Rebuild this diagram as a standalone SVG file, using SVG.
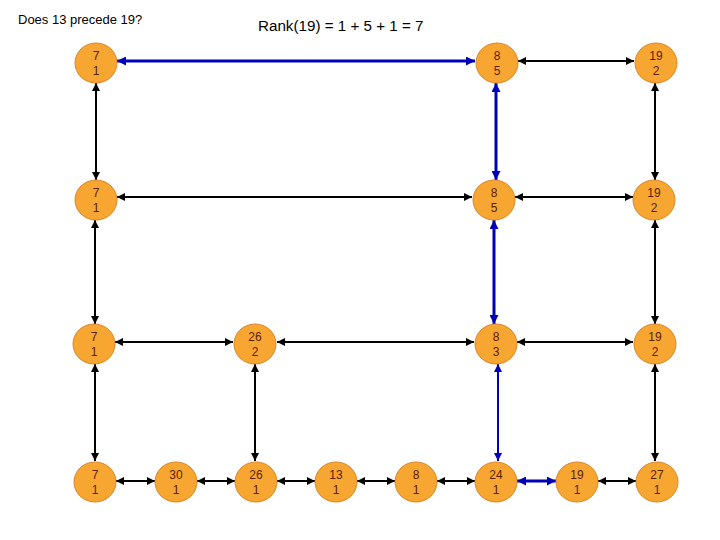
<svg xmlns="http://www.w3.org/2000/svg" width="720" height="540" viewBox="0 0 720 540">
<style>
.n ellipse{fill:#F7A731;stroke:#D9862A;stroke-width:1}
.n text{font-family:"Liberation Sans",Arial,sans-serif;font-size:12px;fill:#5a2008;text-anchor:middle}
.t{font-family:"Liberation Sans",Arial,sans-serif;fill:#000}
.k{stroke:#000;stroke-width:2;fill:none;marker-start:url(#ak);marker-end:url(#ak)}
.b{stroke:#0000B8;stroke-width:3;fill:none;marker-start:url(#ab);marker-end:url(#ab)}
.bt{stroke:#0000B8;stroke-width:2;fill:none;marker-start:url(#ab2);marker-end:url(#ab2)}
</style>
<defs>
<marker id="ak" viewBox="0 0 10 10" refX="10" refY="5" markerWidth="4" markerHeight="4" orient="auto-start-reverse" markerUnits="strokeWidth"><path d="M0,0L10,5L0,10z" fill="#000"/></marker>
<marker id="ab" viewBox="0 0 10 10" refX="10" refY="5" markerWidth="3" markerHeight="3" orient="auto-start-reverse" markerUnits="strokeWidth"><path d="M0,0L10,5L0,10z" fill="#0000B8"/></marker>
<marker id="ab2" viewBox="0 0 10 10" refX="10" refY="5" markerWidth="4" markerHeight="4" orient="auto-start-reverse" markerUnits="strokeWidth"><path d="M0,0L10,5L0,10z" fill="#0000B8"/></marker>
</defs>
<rect width="720" height="540" fill="#fff"/>
<text class="t" x="18" y="24" font-size="13">Does 13 precede 19?</text>
<text class="t" x="258" y="31" font-size="15.2">Rank(19) = 1 + 5 + 1 = 7</text>
<g id="connectors">
<line class="b" x1="117" y1="61" x2="475" y2="61"/>
<line class="k" x1="518" y1="61" x2="634" y2="61"/>
<line class="k" x1="96" y1="83" x2="96" y2="180"/>
<line class="b" x1="496" y1="83" x2="496" y2="180"/>
<line class="k" x1="655" y1="83" x2="655" y2="180"/>
<line class="k" x1="117" y1="197" x2="472" y2="197"/>
<line class="k" x1="515" y1="197" x2="633" y2="197"/>
<line class="k" x1="95" y1="220" x2="95" y2="324"/>
<line class="b" x1="494" y1="220" x2="494" y2="324"/>
<line class="k" x1="655" y1="220" x2="655" y2="324"/>
<line class="k" x1="115" y1="342" x2="233" y2="342"/>
<line class="k" x1="277" y1="342" x2="474" y2="342"/>
<line class="k" x1="517" y1="342" x2="633" y2="342"/>
<line class="k" x1="95" y1="364" x2="95" y2="461"/>
<line class="k" x1="255" y1="364" x2="255" y2="461"/>
<line class="bt" x1="498" y1="364" x2="498" y2="461"/>
<line class="k" x1="655" y1="364" x2="655" y2="461"/>
<line class="k" x1="116" y1="481" x2="155" y2="481"/>
<line class="k" x1="197" y1="481" x2="235" y2="481"/>
<line class="k" x1="277" y1="481" x2="315" y2="481"/>
<line class="k" x1="357" y1="481" x2="395" y2="481"/>
<line class="k" x1="437" y1="481" x2="475" y2="481"/>
<line class="b" x1="517" y1="481" x2="556" y2="481"/>
<line class="k" x1="598" y1="481" x2="636" y2="481"/>
</g>
<g id="n1" class="n"><ellipse cx="96" cy="63" rx="21" ry="20"/><text x="96" y="60">7</text><text x="96" y="75">1</text></g>
<g id="n2" class="n"><ellipse cx="497" cy="63" rx="21" ry="20"/><text x="497" y="60">8</text><text x="497" y="75">5</text></g>
<g id="n3" class="n"><ellipse cx="656" cy="63" rx="21" ry="20"/><text x="656" y="60">19</text><text x="656" y="75">2</text></g>
<g id="n4" class="n"><ellipse cx="96" cy="200" rx="21" ry="20"/><text x="96" y="197">7</text><text x="96" y="212">1</text></g>
<g id="n5" class="n"><ellipse cx="494" cy="200" rx="21" ry="20"/><text x="494" y="197">8</text><text x="494" y="212">5</text></g>
<g id="n6" class="n"><ellipse cx="654" cy="200" rx="21" ry="20"/><text x="654" y="197">19</text><text x="654" y="212">2</text></g>
<g id="n7" class="n"><ellipse cx="94" cy="344" rx="21" ry="20"/><text x="94" y="341">7</text><text x="94" y="356">1</text></g>
<g id="n8" class="n"><ellipse cx="255" cy="344" rx="21" ry="20"/><text x="255" y="341">26</text><text x="255" y="356">2</text></g>
<g id="n9" class="n"><ellipse cx="496" cy="344" rx="21" ry="20"/><text x="496" y="341">8</text><text x="496" y="356">3</text></g>
<g id="n10" class="n"><ellipse cx="655" cy="344" rx="21" ry="20"/><text x="655" y="341">19</text><text x="655" y="356">2</text></g>
<g id="n11" class="n"><ellipse cx="95" cy="482" rx="21" ry="20"/><text x="95" y="479">7</text><text x="95" y="494">1</text></g>
<g id="n12" class="n"><ellipse cx="176" cy="482" rx="21" ry="20"/><text x="176" y="479">30</text><text x="176" y="494">1</text></g>
<g id="n13" class="n"><ellipse cx="256" cy="482" rx="21" ry="20"/><text x="256" y="479">26</text><text x="256" y="494">1</text></g>
<g id="n14" class="n"><ellipse cx="336" cy="482" rx="21" ry="20"/><text x="336" y="479">13</text><text x="336" y="494">1</text></g>
<g id="n15" class="n"><ellipse cx="416" cy="482" rx="21" ry="20"/><text x="416" y="479">8</text><text x="416" y="494">1</text></g>
<g id="n16" class="n"><ellipse cx="496" cy="482" rx="21" ry="20"/><text x="496" y="479">24</text><text x="496" y="494">1</text></g>
<g id="n17" class="n"><ellipse cx="577" cy="482" rx="21" ry="20"/><text x="577" y="479">19</text><text x="577" y="494">1</text></g>
<g id="n18" class="n"><ellipse cx="657" cy="482" rx="21" ry="20"/><text x="657" y="479">27</text><text x="657" y="494">1</text></g>
</svg>
